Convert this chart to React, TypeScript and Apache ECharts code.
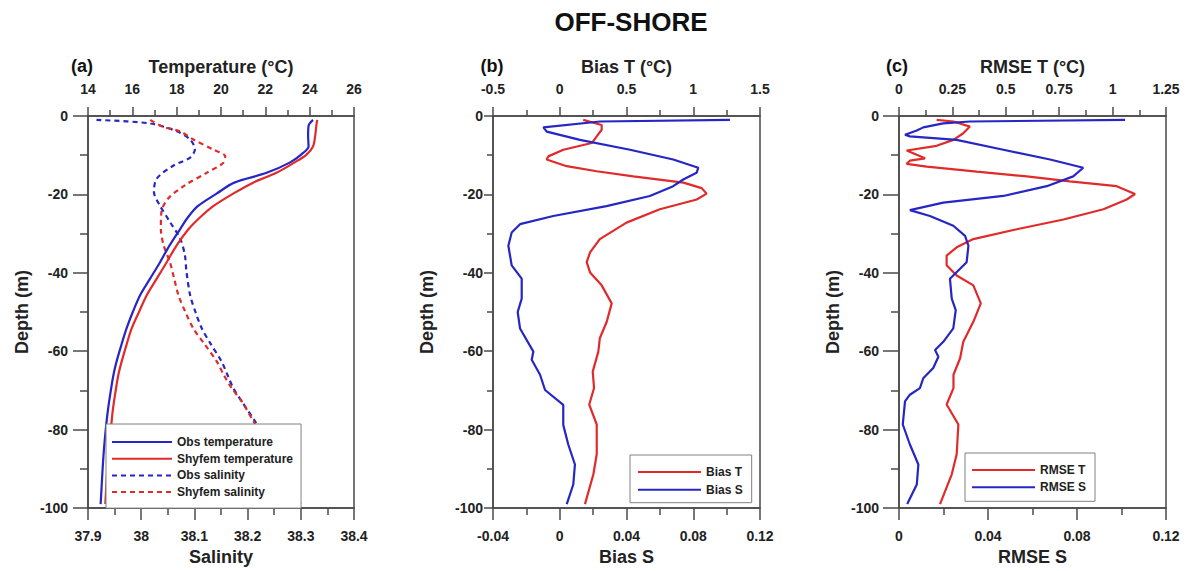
import React, { useEffect, useRef } from "react";
import * as echarts from "echarts";

const FONT = '"Liberation Sans", Arial, Helvetica, sans-serif';
const BLUE = "#2626c4";
const RED = "#e12a2a";
const AXIS = "#4a4a4a";
const TXT = "#222";

// ---------- Panel (a): profiles ----------
const obsTempDepth = [-1, -2.5, -5, -7.8, -9.9, -11.9, -14.5, -17, -19.8, -23, -25.9, -28.9, -33, -37.3, -41.5, -45.7, -50, -54.2, -58.5, -62.6, -66, -70, -75, -80, -85, -90, -95, -99];
const obsTemp = [24.15, 23.95, 23.93, 23.95, 23.6, 23.1, 22.06, 20.6, 19.8, 18.95, 18.5, 18.15, 17.68, 17.25, 16.8, 16.35, 16.02, 15.74, 15.5, 15.29, 15.15, 15.03, 14.9, 14.8, 14.72, 14.66, 14.61, 14.57];
const modTempDepth = obsTempDepth;
const modTemp = [24.34, 24.3, 24.25, 24.15, 23.85, 23.3, 22.5, 21.45, 20.55, 19.65, 19.05, 18.53, 18.0, 17.55, 17.1, 16.65, 16.3, 15.97, 15.73, 15.52, 15.37, 15.25, 15.12, 15.03, 14.94, 14.87, 14.82, 14.78];

const obsSalDepth = [-1, -1.9, -3.9, -6, -8.5, -10.6, -12.7, -16, -19.4, -22.8, -27, -31.2, -35.4, -39.6, -45.7, -50, -54.2, -58, -62.6, -66, -69.4, -73, -77.9, -82, -86, -90, -94, -99];
const obsSal = [37.916, 38.017, 38.067, 38.092, 38.101, 38.092, 38.06, 38.029, 38.024, 38.035, 38.054, 38.073, 38.082, 38.085, 38.092, 38.102, 38.114, 38.13, 38.151, 38.162, 38.173, 38.19, 38.214, 38.232, 38.25, 38.268, 38.285, 38.3];
const modSalDepth = [-1, -2.8, -3.9, -6, -8.6, -10.3, -12, -14.5, -17.7, -21, -24.4, -28.9, -32.9, -37.3, -41.5, -45.7, -50, -54.2, -58, -62.6, -66, -69.4, -73, -77.9, -82, -86, -90, -94, -99];
const modSal = [38.017, 38.042, 38.073, 38.098, 38.136, 38.158, 38.154, 38.123, 38.082, 38.051, 38.038, 38.037, 38.042, 38.054, 38.062, 38.07, 38.083, 38.098, 38.118, 38.142, 38.155, 38.17, 38.19, 38.211, 38.23, 38.248, 38.266, 38.283, 38.3];

// ---------- Panel (b): bias ----------
const biasTDepth = [-1, -2.3, -3.5, -5.2, -6.9, -8.6, -10.3, -11.1, -12.8, -14.1, -15.4, -17, -18.4, -19.8, -21.3, -23.8, -27.2, -31.4, -34.8, -37.3, -39.9, -43.2, -47.8, -52.5, -56.7, -60.1, -65.2, -69.4, -73.6, -78.7, -86.3, -91.4, -99];
const biasT = [0.176, 0.314, 0.314, 0.277, 0.24, 0.027, -0.086, -0.098, 0.052, 0.277, 0.551, 0.926, 1.063, 1.1, 1.026, 0.75, 0.5, 0.3, 0.227, 0.202, 0.227, 0.314, 0.389, 0.352, 0.3, 0.289, 0.247, 0.257, 0.221, 0.277, 0.277, 0.252, 0.189];
const biasSDepth = [-1, -1.4, -2.9, -4, -6.1, -8.6, -11.1, -13.2, -14.5, -16.2, -17.9, -20.4, -23, -25.5, -27.6, -29.7, -33.1, -38.1, -41.5, -46.6, -50, -54.2, -60.1, -62.2, -66, -69.9, -73.7, -78.8, -83.8, -88.9, -94, -99];
const biasS = [0.102, 0.0241, -0.0098, -0.0078, 0.0121, 0.0421, 0.068, 0.083, 0.082, 0.074, 0.068, 0.054, 0.028, -0.0039, -0.0238, -0.0288, -0.0308, -0.0288, -0.0228, -0.0228, -0.0252, -0.0238, -0.0158, -0.0168, -0.0118, -0.0088, 0.0021, 0.0021, 0.0051, 0.0091, 0.0081, 0.0042];

// ---------- Panel (c): RMSE ----------
const rmseTDepth = [-1, -1.4, -2.7, -4.4, -6.1, -7.6, -8.8, -9.9, -10.8, -11.4, -12.2, -12.9, -14.2, -15.4, -16.7, -17.9, -19.9, -21.3, -23.8, -26.4, -28.9, -31.4, -33.5, -35.6, -38.1, -40.7, -43.2, -47.8, -52.5, -57.6, -61.8, -66, -69.4, -73.6, -78.7, -86.3, -91.4, -99];
const rmseT = [0.176, 0.255, 0.332, 0.301, 0.255, 0.176, 0.036, 0.083, 0.122, 0.051, 0.036, 0.13, 0.364, 0.598, 0.8, 1.019, 1.105, 1.066, 0.957, 0.77, 0.551, 0.348, 0.27, 0.223, 0.223, 0.27, 0.348, 0.383, 0.348, 0.301, 0.286, 0.255, 0.255, 0.223, 0.278, 0.27, 0.247, 0.192];
const rmseSDepth = [-1, -1.4, -1.9, -2.9, -3.7, -4.8, -5.2, -6.1, -8.6, -11.1, -13.2, -15.4, -17.9, -20.4, -22.1, -24, -25.5, -28, -30.6, -33.1, -37.3, -41.5, -46.6, -49.5, -54.2, -57.6, -59.7, -61.4, -64.3, -66.9, -69.4, -71.1, -72.8, -78.7, -83.8, -88.9, -94, -99];
const rmseS = [0.1016, 0.0319, 0.0199, 0.0109, 0.008, 0.0027, 0.0049, 0.0259, 0.0469, 0.0679, 0.0828, 0.0783, 0.0664, 0.0469, 0.0199, 0.0049, 0.0139, 0.0244, 0.0297, 0.0312, 0.0304, 0.0229, 0.0237, 0.0255, 0.0244, 0.0199, 0.0162, 0.0177, 0.0154, 0.0109, 0.0094, 0.0049, 0.0027, 0.0017, 0.0049, 0.0087, 0.008, 0.0037];

const zip = (xs: number[], ds: number[]) => xs.map((x, i) => [x, ds[i]]);

const GRIDS = [
  { left: 88, top: 116, width: 266, height: 395 },
  { left: 493, top: 116, width: 267, height: 395 },
  { left: 899, top: 116, width: 267, height: 395 },
];

function xAxis(gridIndex: number, position: "top" | "bottom", min: number, max: number, interval: number, name: string) {
  const top = position === "top";
  return {
    type: "value",
    gridIndex,
    position,
    min,
    max,
    interval,
    name,
    nameLocation: "middle",
    nameGap: 40,
    nameTextStyle: { fontFamily: FONT, fontSize: 18, fontWeight: "bold", color: TXT },
    axisLine: { show: true, onZero: false, lineStyle: { color: AXIS, width: 1.5 } },
    axisTick: { show: true, inside: false, length: top ? 9 : 12, lineStyle: { color: AXIS, width: 1.5 } },
    minorTick: { show: true, splitNumber: 2, length: top ? 6 : 7, lineStyle: { color: AXIS, width: 1.5 } },
    axisLabel: { margin: top ? 20 : 21, fontFamily: FONT, fontSize: 14, fontWeight: "bold", color: TXT },
    splitLine: { show: false },
    minorSplitLine: { show: false },
  };
}

function yAxis(gridIndex: number, margin: number, tickLen: number, minorLen: number) {
  return {
    type: "value",
    gridIndex,
    min: -100,
    max: 0,
    interval: 20,
    name: "Depth (m)",
    nameLocation: "middle",
    nameGap: 57,
    nameTextStyle: { fontFamily: FONT, fontSize: 18, fontWeight: "bold", color: TXT },
    axisLine: { show: true, onZero: false, lineStyle: { color: AXIS, width: 1.5 } },
    axisTick: { show: true, length: tickLen, lineStyle: { color: AXIS, width: 1.5 } },
    minorTick: { show: true, splitNumber: 2, length: minorLen, lineStyle: { color: AXIS, width: 1.5 } },
    axisLabel: { margin, fontFamily: FONT, fontSize: 14, fontWeight: "bold", color: TXT },
    splitLine: { show: false },
  };
}

function line(name: string, xi: number, yi: number, data: number[][], color: string, dashed = false, smooth: number | boolean = false) {
  return {
    type: "line",
    name,
    xAxisIndex: xi,
    yAxisIndex: yi,
    data,
    symbol: "none",
    showSymbol: false,
    smooth,
    clip: true,
    lineStyle: { color, width: 2.2, type: dashed ? [5, 4] : "solid" },
    itemStyle: { color },
    z: dashed ? 2 : 3,
  };
}

function legend(data: string[], left: number, top: number, padding: number[], itemWidth: number, itemGap: number) {
  return {
    data,
    orient: "vertical",
    left,
    top,
    padding,
    itemWidth,
    itemHeight: 12,
    itemGap,
    selectedMode: false,
    backgroundColor: "#fff",
    borderColor: "#808080",
    borderWidth: 1,
    borderRadius: 0,
    itemStyle: { opacity: 0 },
    textStyle: { fontFamily: FONT, fontSize: 12, fontWeight: "bold", color: TXT },
  };
}

export default function App() {
  const ref = useRef<HTMLDivElement>(null);
  useEffect(() => {
    if (!ref.current) return;
    const chart = echarts.init(ref.current, undefined, { renderer: "svg" });
    chart.setOption({
      animation: false,
      backgroundColor: "#fff",
      textStyle: { fontFamily: FONT },
      grid: GRIDS.map((g) => ({ ...g, show: true, borderColor: AXIS, borderWidth: 1.5, backgroundColor: "transparent", containLabel: false })),
      xAxis: [
        xAxis(0, "top", 14, 26, 2, "Temperature (°C)"),
        xAxis(0, "bottom", 37.9, 38.4, 0.1, "Salinity"),
        xAxis(1, "top", -0.5, 1.5, 0.5, "Bias T (°C)"),
        xAxis(1, "bottom", -0.04, 0.12, 0.04, "Bias S"),
        xAxis(2, "top", 0, 1.25, 0.25, "RMSE T (°C)"),
        xAxis(2, "bottom", 0, 0.12, 0.04, "RMSE S"),
      ],
      yAxis: [yAxis(0, 20, 15, 8), yAxis(1, 10, 9, 6), yAxis(2, 20, 16, 8)],
      legend: [
        legend(["Obs temperature", "Shyfem temperature", "Obs salinity", "Shyfem salinity"], 106, 424, [12, 8, 10, 5], 60, 4.7),
        legend(["Bias T", "Bias S"], 630, 455, [11, 9, 7, 7], 63, 5.7),
        legend(["RMSE T", "RMSE S"], 965, 453, [11, 9, 8, 6], 63, 5.3),
      ],
      series: [
        line("Obs salinity", 1, 0, zip(obsSal, obsSalDepth), BLUE, true, 0.3),
        line("Shyfem salinity", 1, 0, zip(modSal, modSalDepth), RED, true, 0.3),
        line("Obs temperature", 0, 0, zip(obsTemp, obsTempDepth), BLUE, false, 0.3),
        line("Shyfem temperature", 0, 0, zip(modTemp, modTempDepth), RED, false, 0.3),
        line("Bias T", 2, 1, zip(biasT, biasTDepth), RED),
        line("Bias S", 3, 1, zip(biasS, biasSDepth), BLUE),
        line("RMSE T", 4, 2, zip(rmseT, rmseTDepth), RED),
        line("RMSE S", 5, 2, zip(rmseS, rmseSDepth), BLUE),
      ],
      graphic: [
        { type: "text", x: 631, y: 22, style: { text: "OFF-SHORE", fill: "#111", font: `bold 26px ${FONT}`, textAlign: "center", textVerticalAlign: "middle" } },
        { type: "text", x: 82, y: 66, style: { text: "(a)", fill: "#111", font: `bold 18px ${FONT}`, textAlign: "center", textVerticalAlign: "middle" } },
        { type: "text", x: 492, y: 66, style: { text: "(b)", fill: "#111", font: `bold 18px ${FONT}`, textAlign: "center", textVerticalAlign: "middle" } },
        { type: "text", x: 897, y: 66, style: { text: "(c)", fill: "#111", font: `bold 18px ${FONT}`, textAlign: "center", textVerticalAlign: "middle" } },
      ],
    });
    return () => chart.dispose();
  }, []);
  return <div ref={ref} style={{ position: "absolute", left: 0, top: 0, width: 1187, height: 571 }} />;
}
